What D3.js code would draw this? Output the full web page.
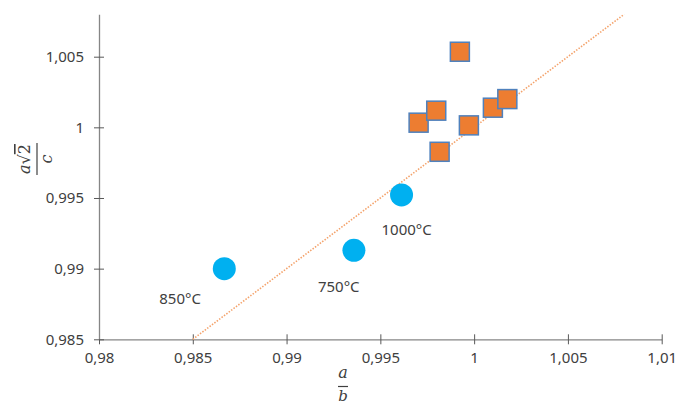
<!DOCTYPE html>
<html>
<head>
<meta charset="utf-8">
<script src="https://cdn.jsdelivr.net/npm/d3@7"></script>
<style>
  body { margin: 0; background: #fff; }
  text { font-family: "Noto Sans", sans-serif; fill: #404040; }
</style>
</head>
<body>
<div id="chart"></div>
<script>
// circles: the three annealing temperatures
var tempLabels = ['850°C', '750°C', '1000°C'];
var tempX = [0.98668, 0.99359, 0.99613];
var tempY = [0.99, 0.9913, 0.99522];

// squares: the other samples
var sqX = [0.99924, 0.99704, 0.99798, 0.99816, 0.99972, 1.0010, 1.00177];
var sqY = [1.00535, 1.00033, 1.00118, 0.99827, 1.00014, 1.00139, 1.0020];

// y = x guide line
var lineX = [0.985, 1.008];

var xTicks = [0.98, 0.985, 0.99, 0.995, 1, 1.005, 1.01];
var yTicks = [0.985, 0.99, 0.995, 1, 1.005];

var svg_width = 677;
var svg_height = 404;

var svg = d3.select('#chart')
  .append('svg')
  .attr('width', svg_width)
  .attr('height', svg_height);

var x = d3.scaleLinear().domain([0.98, 1.01]).range([99, 661.7]);
var y = d3.scaleLinear().domain([0.985, 1.008]).range([339.3, 14.3]);

var fmt = function(d) { return String(d).replace('.', ','); };

// axes
var xAxis = svg.append('g')
  .attr('transform', 'translate(0,' + y(0.985) + ')')
  .call(d3.axisBottom(x).tickValues(xTicks).tickFormat(fmt).tickSizeInner(5).tickSizeOuter(0).tickPadding(8));
xAxis.selectAll('.tick line').attr('y1', -5);

var yAxis = svg.append('g')
  .attr('transform', 'translate(' + x(0.98) + ',0)')
  .call(d3.axisLeft(y).tickValues(yTicks).tickFormat(fmt).tickSizeInner(5).tickSizeOuter(0).tickPadding(10));
yAxis.selectAll('.tick line').attr('x1', 5);

svg.selectAll('.domain').attr('stroke', '#868686').attr('stroke-width', 1.3);
svg.selectAll('.tick line').attr('stroke', '#595959').attr('stroke-width', 1);
svg.selectAll('.tick text')
  .style('font-family', '"Noto Sans", sans-serif')
  .style('font-size', '15px')
  .attr('fill', '#404040');

// guide line y = x
svg.append('line')
  .attr('x1', x(lineX[0])).attr('y1', y(lineX[0]))
  .attr('x2', x(lineX[1])).attr('y2', y(lineX[1]))
  .attr('stroke', '#F4A36C')
  .attr('stroke-width', 1.6)
  .attr('stroke-dasharray', '1.5,1.5');

// squares
var sqSize = 19;
svg.selectAll('rect.sq')
  .data(d3.range(sqX.length))
  .enter().append('rect')
  .attr('class', 'sq')
  .attr('x', function(i) { return x(sqX[i]) - sqSize / 2; })
  .attr('y', function(i) { return y(sqY[i]) - sqSize / 2; })
  .attr('width', sqSize)
  .attr('height', sqSize)
  .attr('fill', '#ED7D31')
  .attr('stroke', '#4F81BD')
  .attr('stroke-width', 1.5);

// circles
svg.selectAll('circle.temp')
  .data(d3.range(tempX.length))
  .enter().append('circle')
  .attr('class', 'temp')
  .attr('cx', function(i) { return x(tempX[i]); })
  .attr('cy', function(i) { return y(tempY[i]); })
  .attr('r', 11.5)
  .attr('fill', '#00B0F0');

// temperature labels (offsets from the circle)
var labelDx = [-65, -36, -20];
var labelDy = [35, 42, 40];
svg.selectAll('text.temp')
  .data(d3.range(tempLabels.length))
  .enter().append('text')
  .attr('class', 'temp')
  .attr('x', function(i) { return x(tempX[i]) + labelDx[i]; })
  .attr('y', function(i) { return y(tempY[i]) + labelDy[i]; })
  .style('font-size', '15px')
  .text(function(i) { return tempLabels[i]; });

// x axis label: a / b
var xl = svg.append('g').attr('transform', 'translate(343,0)');
xl.append('text').attr('x', 0).attr('y', 378).attr('text-anchor', 'middle')
  .style('font-family', '"DejaVu Serif", serif').style('font-style', 'italic').style('font-size', '16px')
  .text('a');
xl.append('line').attr('x1', -5).attr('x2', 5).attr('y1', 386.5).attr('y2', 386.5)
  .attr('stroke', '#404040').attr('stroke-width', 1.2);
xl.append('text').attr('x', 0).attr('y', 401).attr('text-anchor', 'middle')
  .style('font-family', '"DejaVu Serif", serif').style('font-style', 'italic').style('font-size', '15px')
  .text('b');

// y axis label: a√2 / c, rotated
var yl = svg.append('g').attr('transform', 'translate(37,159) rotate(-90)');
var num = yl.append('text').attr('x', 0).attr('y', -7).attr('text-anchor', 'middle')
  .style('font-family', '"DejaVu Serif", serif').style('font-size', '16px');
num.append('tspan').style('font-style', 'italic').text('a');
num.append('tspan').text('√');
num.append('tspan').style('text-decoration', 'overline').text('2');
yl.append('line').attr('x1', -16).attr('x2', 16).attr('y1', 0).attr('y2', 0)
  .attr('stroke', '#404040').attr('stroke-width', 1.2);
yl.append('text').attr('x', 0).attr('y', 15).attr('text-anchor', 'middle')
  .style('font-family', '"DejaVu Serif", serif').style('font-style', 'italic').style('font-size', '16px')
  .text('c');
</script>
</body>
</html>
